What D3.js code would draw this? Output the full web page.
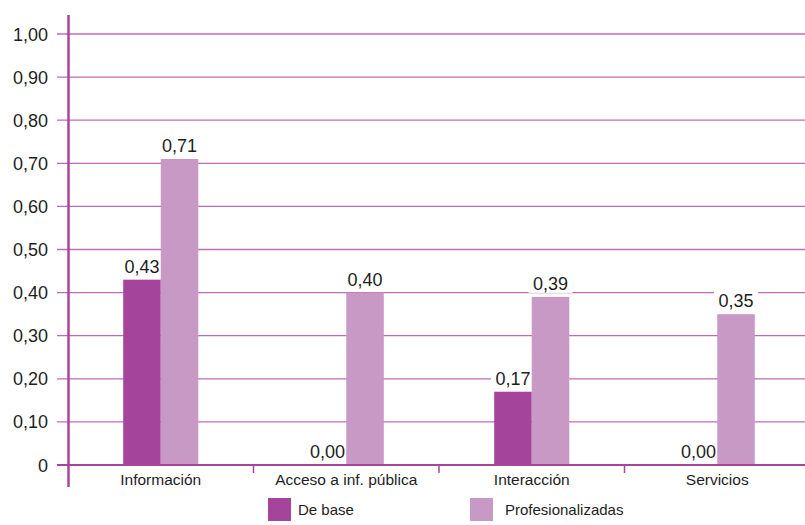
<!DOCTYPE html>
<html><head><meta charset="utf-8">
<script src="https://cdn.jsdelivr.net/npm/d3@7"></script>
<style>body{margin:0;background:#fff}svg{display:block}</style>
</head><body>
<svg id="c" width="805" height="525"></svg>
<script>
const categories = ["Información", "Acceso a inf. pública", "Interacción", "Servicios"];
const seriesNames = ["De base", "Profesionalizadas"];
const deBase = [0.43, 0.00, 0.17, 0.00];
const profesionalizadas = [0.71, 0.40, 0.39, 0.35];
const yTicks = [0, 0.1, 0.2, 0.3, 0.4, 0.5, 0.6, 0.7, 0.8, 0.9, 1.0];
const colors = ["#a4449a", "#c999c6"];

const svg = d3.select("#c");
const FONT = "Liberation Sans, Arial, sans-serif";
const x0 = d3.scaleBand().domain(categories).range([68, 810]).paddingInner(0).paddingOuter(0);
const x1 = d3.scaleBand().domain(seriesNames).range([0, x0.bandwidth()]).paddingInner(0).paddingOuter(1.47);
const y = d3.scaleLinear().domain([0, 1]).range([465, 34]);
const fmt = v => v === 0 ? "0" : d3.format(".2f")(v).replace(".", ",");
const fmtv = v => d3.format(".2f")(v).replace(".", ",");

// gridlines
svg.append("g").selectAll("line").data(yTicks.filter(d => d > 0)).join("line")
  .attr("x1", 57).attr("x2", 805).attr("y1", d => y(d)).attr("y2", d => y(d))
  .attr("stroke", "#bf6cb6").attr("stroke-width", 1.3);

// tick labels
svg.append("g").selectAll("text").data(yTicks).join("text")
  .attr("x", 48).attr("y", d => y(d) + 6.5).attr("text-anchor", "end")
  .attr("font-family", FONT).attr("font-size", 18)
  .attr("fill", "#1e1e1e").text(fmt);

const data = categories.map((c, i) => ({c, vals: [deBase[i], profesionalizadas[i]]}));
const items = d => d.vals.map((v, j) => ({s: seriesNames[j], v, j}));

// label backgrounds (behind bars, over gridlines)
svg.append("g").selectAll("g").data(data).join("g")
  .attr("transform", d => `translate(${x0(d.c)},0)`)
  .selectAll("rect").data(items).join("rect")
  .attr("x", d => x1(d.s) + x1.bandwidth()/2 - 22).attr("width", 44)
  .attr("y", d => y(d.v) - 24).attr("height", 20)
  .attr("fill", "#fff");

// bars
const groups = svg.append("g").selectAll("g").data(data).join("g")
  .attr("transform", d => `translate(${x0(d.c)},0)`);
groups.selectAll("rect").data(items).join("rect")
  .attr("x", d => x1(d.s)).attr("width", x1.bandwidth())
  .attr("y", d => y(d.v)).attr("height", d => y(0) - y(d.v))
  .attr("fill", d => colors[d.j]);

// value labels
groups.selectAll("text").data(items).join("text")
  .attr("x", d => x1(d.s) + x1.bandwidth()/2).attr("y", d => y(d.v) - 7)
  .attr("text-anchor", "middle")
  .attr("font-family", FONT).attr("font-size", 18)
  .attr("fill", "#1e1e1e").text(d => fmtv(d.v));

// axes lines
svg.append("line").attr("x1", 57).attr("x2", 805).attr("y1", y(0)).attr("y2", y(0))
  .attr("stroke", "#a8449c").attr("stroke-width", 2.2);
svg.append("line").attr("x1", 68.5).attr("x2", 68.5).attr("y1", 15).attr("y2", 487)
  .attr("stroke", "#a8449c").attr("stroke-width", 2.5);
// category separator ticks
svg.append("g").selectAll("line").data(categories.slice(1)).join("line")
  .attr("x1", d => x0(d)).attr("x2", d => x0(d)).attr("y1", y(0)).attr("y2", y(0) + 8)
  .attr("stroke", "#a8449c").attr("stroke-width", 1.5);
// category labels
svg.append("g").selectAll("text").data(categories).join("text")
  .attr("x", d => x0(d) + x0.bandwidth()/2).attr("y", 485).attr("text-anchor", "middle")
  .attr("font-family", FONT).attr("font-size", 15.5)
  .attr("fill", "#1e1e1e").text(d => d);

// legend
const legX = [268, 470];
const leg = svg.append("g").selectAll("g").data(seriesNames).join("g")
  .attr("transform", (d, i) => `translate(${legX[i]},498)`);
leg.append("rect").attr("width", 23).attr("height", 23).attr("fill", (d, i) => colors[i]);
leg.append("text").attr("x", d => d === "De base" ? 30 : 35).attr("y", 17)
  .attr("font-family", FONT).attr("font-size", 15)
  .attr("fill", "#1e1e1e").text(d => d);
</script>
</body></html>
